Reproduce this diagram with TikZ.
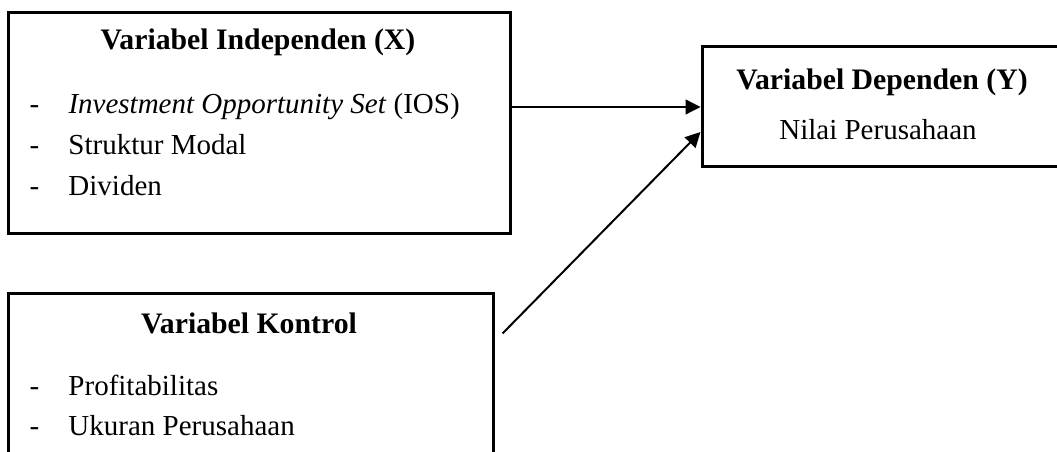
\documentclass[tikz,border=0pt]{standalone}
\usepackage{fontspec}
\setmainfont{Liberation Serif}
\usepackage{tikz}
\usetikzlibrary{arrows.meta,positioning}

\newcommand{\butir}[1]{\makebox[15.6pt][l]{-}#1}

\tikzset{
    kotak/.style={
                draw=black,
                line width=1.2pt,
                inner sep=0pt
            },
        judul/.style={
                anchor=base,
                inner sep=0pt,
                font=\fontsize{11.9}{14}\selectfont\bfseries
            },
        isi/.style={
                anchor=base west,
                inner sep=0pt,
                font=\fontsize{11.6}{14}\selectfont
            },
        panah/.style={
                -{Triangle[length=6pt,width=6pt]},
                line width=0.5pt
            },
}

\begin{document}
\begin{tikzpicture}[x=0.4pt,y=-0.4pt]
\useasboundingbox (0,0) rectangle (1057,452);
\clip (0,0) rectangle (1057,452);
% Boxes
\node[kotak, minimum width=200.4pt, minimum height=88pt] (bx) at (259.5,123) {};
\node[kotak, minimum width=193.6pt, minimum height=74.8pt] (bk) at (251,386.5) {};
\node[kotak, minimum width=149.2pt, minimum height=48pt] (by) at (888.5,107) {};
% Independen
\node[judul] (jx) at (258,50) {Variabel Independen (X)};
\node[isi] (x1) at (29,114) {\butir{\textit{Investment Opportunity Set} (IOS)}};
\node[isi] (x2) at (29,155) {\butir{Struktur Modal}};
\node[isi] (x3) at (29,196) {\butir{Dividen}};
% Kontrol
\node[judul] (jk) at (249,333) {Variabel Kontrol};
\node[isi] (k1) at (29,395) {\butir{Profitabilitas}};
\node[isi] (k2) at (29,435) {\butir{Ukuran Perusahaan}};
% Dependen
\node[judul] (jy) at (882,90) {Variabel Dependen (Y)};
\node[isi, anchor=base] (y1) at (878,140) {Nilai Perusahaan};
% Arrows
\coordinate (mulai) at ([xshift=3.2pt,yshift=-16.8pt]bk.north east);
\draw[panah] (bx.east |- by.west) -- (by.west);
\draw[panah, line width=0.8pt] (mulai) -- ([yshift=-10pt]by.west);
\end{tikzpicture}
\end{document}
